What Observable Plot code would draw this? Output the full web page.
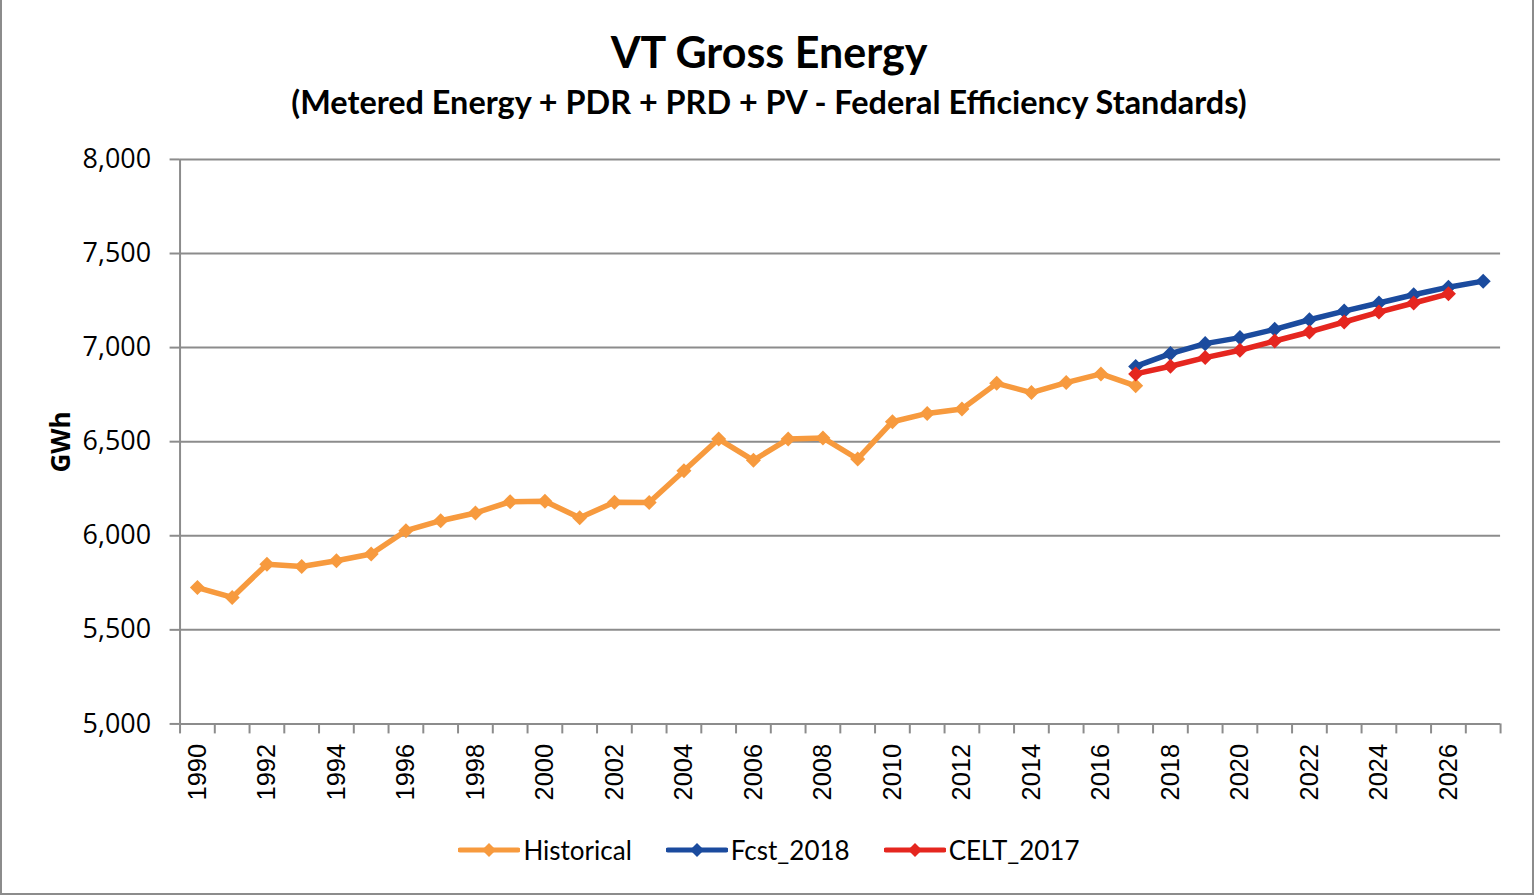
<!DOCTYPE html>
<html>
<head>
<meta charset="utf-8">
<script src="https://cdn.jsdelivr.net/npm/d3@7"></script>
<script src="https://cdn.jsdelivr.net/npm/@observablehq/plot@0.6"></script>
<style>
  html, body { margin: 0; padding: 0; background: #fff; }
  #frame { position: relative; width: 1534px; height: 895px; box-sizing: border-box;
           border-left: 2px solid #8c8c8c; border-right: 2px solid #8c8c8c; border-bottom: 2px solid #8c8c8c;
           overflow: hidden; font-family: Lato, "Open Sans", sans-serif; }
  #title { position: absolute; left: 0; width: 1534px; top: 26px; text-align: center;
           font-weight: 700; font-size: 43px; line-height: 52px; color: #000; }
  #subtitle { position: absolute; left: 0; width: 1534px; top: 82px; text-align: center;
              font-weight: 700; font-size: 32.4px; line-height: 40px; color: #000; }
  #ylabel { position: absolute; left: 58px; top: 442px; transform: translate(-50%, -50%) rotate(-90deg);
            font-weight: 700; font-size: 26px; font-family: "Open Sans", sans-serif; }
  #chart { position: absolute; left: 0; top: 130px; }
  #legend { position: absolute; top: 834px; left: 0; width: 1534px; display: flex; justify-content: center;
            gap: 34px; font-size: 26px; }
  .item { display: flex; align-items: center; }
  .item svg { margin-right: 3px; }
</style>
</head>
<body>
<div id="frame">
  <div id="title">VT Gross Energy</div>
  <div id="subtitle">(Metered Energy + PDR + PRD + PV - Federal Efficiency Standards)</div>
  <div id="ylabel">GWh</div>
  <div id="chart"></div>
  <div id="legend"></div>
</div>
<script>
// ---- data ----
const histYears = d3.range(1990, 2018);
const historical = [5725, 5672, 5849, 5837, 5867, 5903, 6027, 6080, 6121, 6181,
                    6183, 6096, 6178, 6177, 6346, 6514, 6401, 6514, 6520, 6408,
                    6606, 6650, 6674, 6810, 6761, 6814, 6860, 6797];
const fcstYears = d3.range(2017, 2028);
const fcst2018 = [6900, 6968, 7021, 7053, 7097, 7148, 7194, 7237, 7281, 7321, 7353];
const celtYears = d3.range(2017, 2027);
const celt2017 = [6860, 6901, 6947, 6986, 7035, 7083, 7136, 7189, 7237, 7286];
const yTicks = [5000, 5500, 6000, 6500, 7000, 7500, 8000];
const xLabelYears = d3.range(1990, 2027, 2);
const seriesNames = ["Historical", "Fcst_2018", "CELT_2017"];
const seriesColors = ["#F79A3E", "#1B4B9E", "#E5261F"];

const toRows = (years, vals, name) => years.map((year, i) => ({year, value: vals[i], name}));
const series = [
  toRows(histYears, historical, seriesNames[0]),
  toRows(fcstYears, fcst2018, seriesNames[1]),
  toRows(celtYears, celt2017, seriesNames[2])
];
const edges = d3.range(1989.5, 2028, 1);
const gridColor = "#8c8c8c";

const marks = [
  Plot.gridY(yTicks, {stroke: gridColor, strokeOpacity: 1, strokeWidth: 2}),
  Plot.ruleX([1989.5], {y1: 5000, y2: 8000, stroke: gridColor, strokeWidth: 2}),
  Plot.axisY(yTicks, {tickSize: 10, stroke: gridColor, strokeWidth: 2, tickPadding: 19,
    tickFormat: d3.format(","), fontSize: 27, fontFamily: "Open Sans, sans-serif", fill: "#000", label: null}),
  Plot.axisX(edges, {tickSize: 10, stroke: gridColor, strokeWidth: 2, tickFormat: () => "", label: null}),
  Plot.axisX(xLabelYears, {tickSize: 0, tickPadding: 20, tickRotate: -90, tickFormat: d => String(d),
    fontSize: 25.5, fontFamily: "Liberation Sans, Arial, sans-serif", fill: "#000", label: null})
];
series.forEach((rows, i) => {
  marks.push(Plot.line(rows, {x: "year", y: "value", stroke: seriesColors[i], strokeWidth: 5.5}));
  marks.push(Plot.dot(rows, {x: "year", y: "value", symbol: "diamond2", r: 6.8, fill: seriesColors[i], stroke: "none"}));
});

const chart = Plot.plot({
  width: 1534,
  height: 690,
  marginLeft: 178,
  marginRight: 32,
  marginTop: 29,
  marginBottom: 95,
  x: {type: "linear", domain: [1989.5, 2027.5]},
  y: {domain: [5000, 8000]},
  style: {background: "transparent", overflow: "visible", color: "#000"},
  marks
});
document.getElementById("chart").appendChild(chart);

// legend
const legend = document.getElementById("legend");
seriesNames.forEach((name, i) => {
  const item = document.createElement("div");
  item.className = "item";
  item.innerHTML = `<svg width="62" height="20"><line x1="2" y1="10" x2="60" y2="10" stroke="${seriesColors[i]}" stroke-width="5" stroke-linecap="round"/><path d="M31,3 L38,10 L31,17 L24,10 Z" fill="${seriesColors[i]}"/></svg><span>${name}</span>`;
  legend.appendChild(item);
});
</script>
</body>
</html>
